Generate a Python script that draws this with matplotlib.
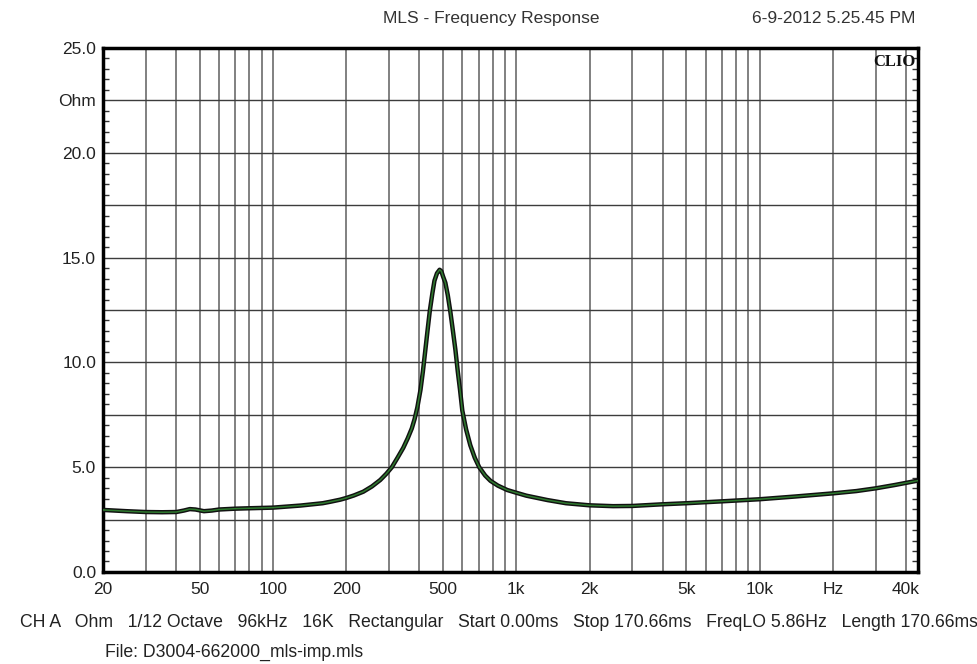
import numpy as np
import matplotlib
matplotlib.use("Agg")
import matplotlib.pyplot as plt
from matplotlib.ticker import FixedLocator, FixedFormatter, MultipleLocator

plt.rcParams['font.family'] = ['Liberation Sans', 'DejaVu Sans']

# impedance curve, frequency in Hz and magnitude in Ohm
freq = [20, 25, 30, 35, 40, 43, 45.5, 48, 52, 56, 60, 70, 80, 100, 130, 160,
        172, 189, 200, 215, 235, 255, 276, 292, 308, 325, 343, 358, 372, 382,
        392, 404, 413, 422, 432, 441, 452, 461, 472, 484, 492, 500, 511, 523,
        536, 549, 562, 575, 587, 600, 622, 647, 675, 704, 745, 783, 840, 918,
        1000, 1100, 1222, 1344, 1600, 2000, 2500, 3000, 4000, 5000, 7000,
        10000, 14000, 20000, 25000, 30000, 36000, 44800]
ohm = [2.96, 2.90, 2.86, 2.85, 2.86, 2.93, 3.00, 2.98, 2.90, 2.93, 2.98, 3.02,
       3.04, 3.07, 3.17, 3.28, 3.35, 3.45, 3.53, 3.65, 3.83, 4.08, 4.39, 4.68,
       5.00, 5.45, 5.92, 6.38, 6.85, 7.30, 7.85, 8.70, 9.55, 10.50, 11.55,
       12.45, 13.30, 13.90, 14.25, 14.42, 14.35, 14.10, 13.80, 13.20, 12.40,
       11.50, 10.60, 9.55, 8.70, 7.70, 6.80, 6.05, 5.45, 5.00, 4.60, 4.35,
       4.12, 3.91, 3.78, 3.64, 3.53, 3.43, 3.28, 3.18, 3.14, 3.15, 3.23, 3.28,
       3.37, 3.47, 3.60, 3.75, 3.86, 3.99, 4.15, 4.36]

xtick_vals = [20, 50, 100, 200, 500, 1000, 2000, 5000, 10000, 20000, 40000]
xtick_text = ['20', '50', '100', '200', '500', '1k', '2k', '5k', '10k', 'Hz', '40k']
ytick_vals = [0, 2.5, 5, 7.5, 10, 12.5, 15, 17.5, 20, 22.5, 25]
ytick_text = ['0.0', '', '5.0', '', '10.0', '', '15.0', '', '20.0', 'Ohm', '25.0']

minor_x = [m * d for d in (10, 100, 1000, 10000) for m in range(1, 10)
           if 20 <= m * d <= 40000 and m * d not in xtick_vals]

info = ("CH A   Ohm   1/12 Octave   96kHz   16K   Rectangular   Start 0.00ms   "
        "Stop 170.66ms   FreqLO 5.86Hz   Length 170.66ms")

fig = plt.figure(figsize=(9.77, 6.64), dpi=100)
ax = fig.add_axes([0.1054, 0.1386, 0.8342, 0.7891])

ax.set_xscale('log')
ax.set_xlim(20, 44800)
ax.set_ylim(0, 25)

ax.xaxis.set_major_locator(FixedLocator(xtick_vals))
ax.xaxis.set_major_formatter(FixedFormatter(xtick_text))
ax.xaxis.set_minor_locator(FixedLocator(minor_x))
ax.xaxis.set_minor_formatter(FixedFormatter([''] * len(minor_x)))
ax.yaxis.set_major_locator(FixedLocator(ytick_vals))
ax.yaxis.set_major_formatter(FixedFormatter(ytick_text))
ax.yaxis.set_minor_locator(MultipleLocator(0.5))

ax.grid(which='both', axis='x', color='#808080', lw=1.4)
ax.grid(which='major', axis='y', color='#3c3c3c', lw=1.0)
ax.set_axisbelow(True)

ax.tick_params(axis='x', which='both', length=0, pad=7, labelsize=12.5, labelcolor='#222222')
ax.tick_params(axis='y', which='major', length=0, pad=5, labelsize=12.5, labelcolor='#222222')
ax.tick_params(axis='y', which='minor', direction='in', length=4, width=1,
               left=True, right=True, color='#333333')

for s in ax.spines.values():
    s.set_linewidth(2.5)
    s.set_color('black')

# dark outline with green core
ax.plot(freq, ohm, color='#111111', lw=3.2, solid_capstyle='round',
        solid_joinstyle='round', zorder=3)
ax.plot(freq, ohm, color='#2f7a2f', lw=1.1, solid_joinstyle='round', zorder=4)

ax.text(0.997, 0.988, 'CLIO', transform=ax.transAxes, ha='right', va='top',
        family='Liberation Serif', fontweight='bold', fontsize=12, color='#111111')

fig.text(0.5026, 0.972, 'MLS - Frequency Response', ha='center', va='center',
         fontsize=12.5, color='#333333')
fig.text(0.853, 0.972, '6-9-2012 5.25.45 PM', ha='center', va='center',
         fontsize=12.5, color='#333333')
fig.text(0.02, 0.063, info, ha='left', va='center', fontsize=12.7, color='#222222')
fig.text(0.107, 0.018, 'File: D3004-662000_mls-imp.mls', ha='left', va='center',
         fontsize=12.7, color='#222222')

fig.savefig('out.png', dpi=100)
